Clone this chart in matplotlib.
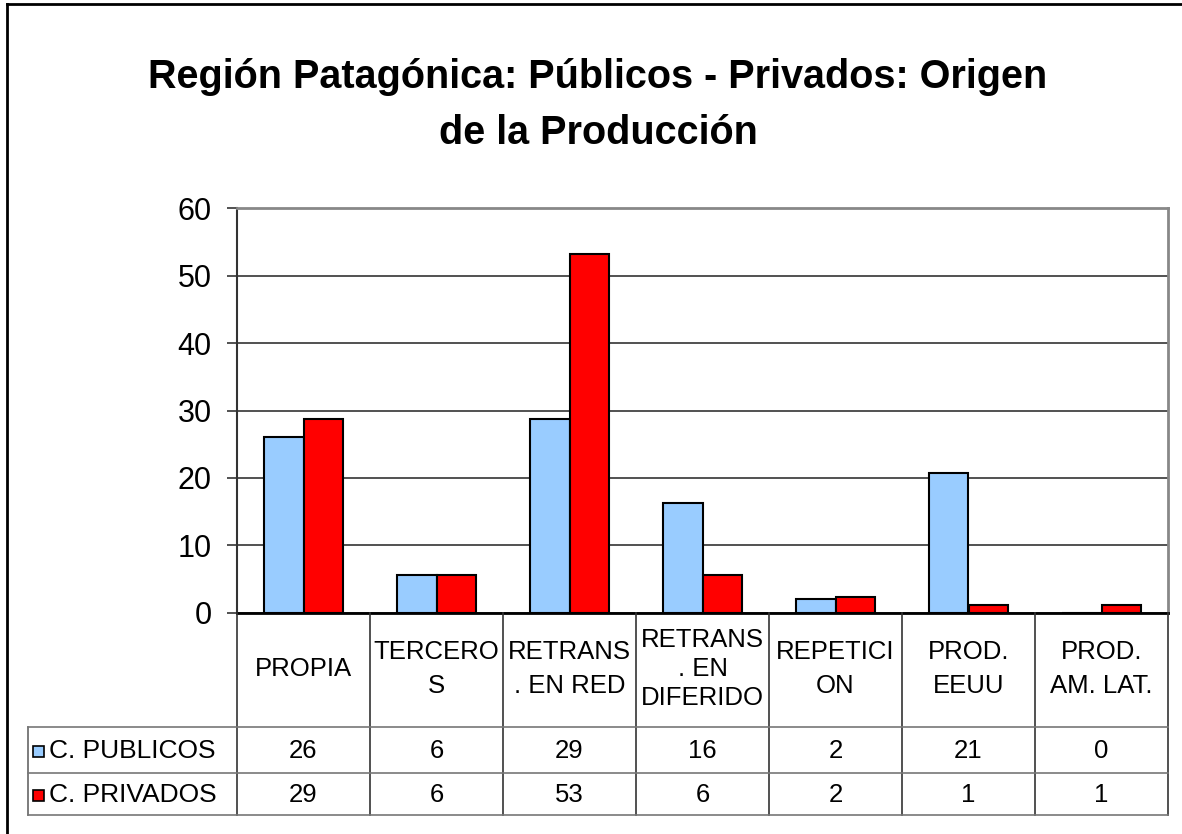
#!/usr/bin/env python3
"""
Region Patagonica: publicos vs privados, origen de la produccion.
Excel-style column chart with a data table underneath.
"""

import matplotlib
matplotlib.use("Agg")
import matplotlib.pyplot as plt
from matplotlib.patches import Rectangle
from matplotlib.lines import Line2D
from matplotlib.transforms import blended_transform_factory

plt.rcParams['font.family'] = ['Liberation Sans', 'DejaVu Sans']

# data
categories = ["PROPIA", "TERCERO\nS", "RETRANS\n. EN RED", "RETRANS\n. EN\nDIFERIDO",
              "REPETICI\nON", "PROD.\nEEUU", "PROD.\nAM. LAT."]
series_names = ["C. PUBLICOS", "C. PRIVADOS"]
publicos = [26.1, 5.6, 28.8, 16.3, 2.1, 20.8, 0.0]
privados = [28.8, 5.6, 53.2, 5.6, 2.4, 1.1, 1.1]
yticks = [0, 10, 20, 30, 40, 50, 60]
title_lines = ["Región Patagónica: Públicos - Privados: Origen", "de la Producción"]

colors = ["#99CCFF", "#FF0000"]

W, H = 1182, 834
fig = plt.figure(figsize=(W / 100, H / 100), dpi=100)


def fx(x):
    return x / W


def fy(y):
    # pixel row (from top) -> figure fraction
    return 1 - y / H


# plot area in pixels
left, right, top, bottom = 237, 1168, 208.3, 612.7
ax = fig.add_axes([fx(left), fy(bottom), fx(right - left), (bottom - top) / H])

n = len(categories)
xs = list(range(n))
bw = 0.297
ax.bar([x - bw / 2 for x in xs], publicos, bw, color=colors[0], edgecolor="black",
       linewidth=1.5, zorder=3)
ax.bar([x + bw / 2 for x in xs], privados, bw, color=colors[1], edgecolor="black",
       linewidth=1.5, zorder=3)

ax.set_xlim(-0.5, n - 0.5)
ax.set_ylim(0, 60)
ax.set_yticks(yticks)
ax.set_xticks([])
ax.tick_params(axis="y", labelsize=22, length=7.2, width=1.2, pad=11, color="#333333")
ax.yaxis.grid(True, color="#333333", linewidth=1.2, zorder=0)
ax.set_axisbelow(True)
for s in ["top", "right"]:
    ax.spines[s].set_color("#888888")
    ax.spines[s].set_linewidth(2)
ax.spines["left"].set_color("#333333")
ax.spines["left"].set_linewidth(1.5)
ax.spines["bottom"].set_color("black")
ax.spines["bottom"].set_linewidth(2)

# data table below the axis
tr = blended_transform_factory(ax.transData, fig.transFigure)
row_y = [bottom, 727, 773, 815]
tab_left = 28

# vertical column lines
for i in range(n + 1):
    fig.add_artist(Line2D([i - 0.5, i - 0.5], [fy(row_y[0]), fy(row_y[3])],
                          transform=tr, color="#333333", linewidth=1.2))
fig.add_artist(Line2D([fx(tab_left), fx(tab_left)], [fy(row_y[1]), fy(row_y[3])],
                      transform=fig.transFigure, color="#666666", linewidth=1.2))
# horizontal row lines
for y in row_y[1:]:
    fig.add_artist(Line2D([fx(tab_left), fx(right)], [fy(y), fy(y)],
                          transform=fig.transFigure, color="#777777", linewidth=1.2))

# header labels
for i, lab in enumerate(categories):
    ls = 1.28 if lab.count("\n") > 1 else 1.5
    fig.text(i, fy(669), lab, transform=tr, ha="center", va="center",
             fontsize=18.5, linespacing=ls)

# values + legend keys
for r, (name, vals) in enumerate(zip(series_names, [publicos, privados])):
    yc = (row_y[r + 1] + row_y[r + 2]) / 2 + 0.5
    for i, v in enumerate(vals):
        fig.text(i, fy(yc), f"{round(v):d}", transform=tr, ha="center", va="center",
                 fontsize=18.5)
    fig.add_artist(Rectangle((fx(33), fy(yc + 6)), fx(11), 11 / H,
                             transform=fig.transFigure, facecolor=colors[r],
                             edgecolor="black", linewidth=1.2))
    fig.text(fx(49), fy(yc), name, ha="left", va="center", fontsize=19)

# title
fig.text(fx(598), fy(88), title_lines[0], ha="center", va="baseline",
         fontsize=28.5, fontweight="bold")
fig.text(fx(598), fy(144), title_lines[1], ha="center", va="baseline",
         fontsize=28.5, fontweight="bold")

# chart frame (left and top edges visible)
fig.add_artist(Line2D([fx(7), fx(7)], [fy(4), 0], transform=fig.transFigure,
                      color="black", linewidth=2))
fig.add_artist(Line2D([fx(7), 1], [fy(4), fy(4)], transform=fig.transFigure,
                      color="black", linewidth=2))

fig.savefig("out.png", dpi=100, facecolor="white")
